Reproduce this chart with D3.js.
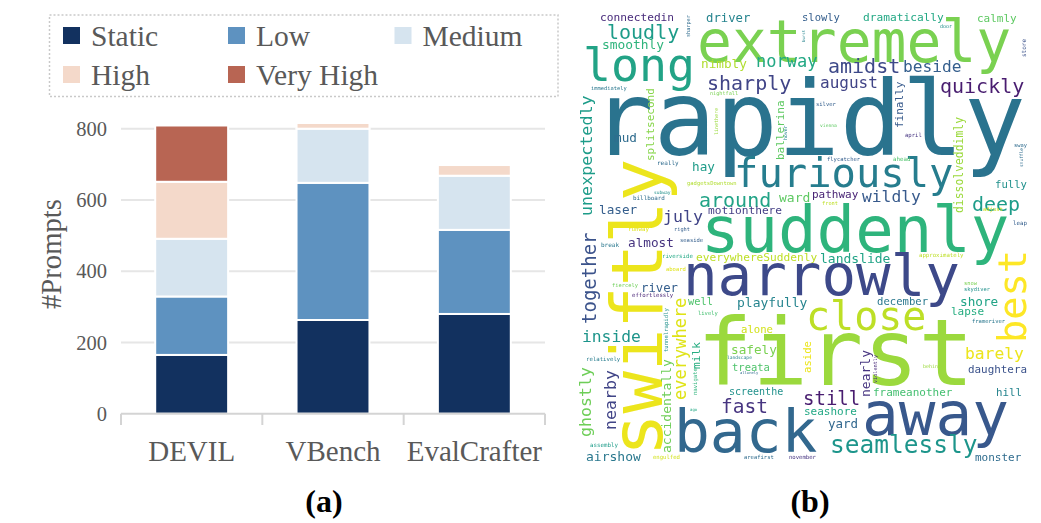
<!DOCTYPE html>
<html>
<head>
<meta charset="utf-8">
<script src="https://cdn.jsdelivr.net/npm/d3@7/dist/d3.min.js"></script>
<style>
  html, body { margin: 0; padding: 0; background: #fff; }
  svg { display: block; }
</style>
</head>
<body>
<div id="canvas"></div>
<script>
// (a) stacked bars
var datasets = ['DEVIL', 'VBench', 'EvalCrafter'];
var levels = ['Static', 'Low', 'Medium', 'High', 'Very High'];
var levelColors = ['#12315f', '#5e92c0', '#d6e4ef', '#f4d9ca', '#b86553'];
var staticCounts = [165, 263, 280];
var lowCounts = [164, 385, 236];
var mediumCounts = [162, 152, 152];
var highCounts = [160, 16, 30];
var veryHighCounts = [158, 0, 0];
var yTicks = [0, 200, 400, 600, 800];

// (b) word cloud, rows are word, column, row, weight, viridis tone
var cloudAcross = [
  ['rapidly', 11.7, 145, 103, .38], ['extremely', 117, 52, 58, .8], ['first', 117, 375, 92, .85],
  ['suddenly', 121, 242, 64, .65], ['narrowly', 103, 285, 57.5, .22], ['away', 282, 425, 61, .27],
  ['back', 94, 442, 59.5, .33], ['furiously', 154, 177, 40.5, .42], ['close', 226, 320, 40, .9],
  ['long', 3, 71, 46.5, .58], ['seamlessly', 250, 443, 24.5, .52], ['loudly', 27, 29, 20, .55],
  ['sharply', 127, 80, 20, .2], ['amidst', 248, 63, 20, .22], ['quickly', 360, 83, 20, .08],
  ['around', 119, 197, 20, .58], ['deep', 392, 201, 20, .55], ['still', 223, 395, 19, .08],
  ['fast', 141, 403, 19.5, .15], ['norway', 176, 57, 17, .6], ['july', 83, 212, 16.6, .2],
  ['beside', 323, 62, 16.2, .3], ['august', 240, 78, 16, .2], ['wildly', 282, 192, 16.3, .28],
  ['inside', 2, 332, 16.3, .52], ['barely', 385, 349, 16.3, .97], ['smoothly', 22, 39, 12.9, .65],
  ['driver', 126, 12, 12.3, .45], ['nimbly', 121, 58, 12.7, .88], ['mud', 34, 132, 12.7, .35],
  ['hay', 112, 161, 12.7, .55], ['laser', 19, 204, 12.7, .3], ['ward', 199, 192, 13, .75],
  ['almost', 48, 237, 12.7, .15], ['river', 61, 282, 12.3, .3], ['playfully', 157, 297, 13, .45],
  ['landslide', 240, 253, 13, .58], ['shore', 380, 296, 12.7, .58], ['safely', 151, 344, 12.7, .8],
  ['yard', 248, 418, 12.5, .33], ['airshow', 6, 451, 13, .4], ['connectedin', 20, 11, 11.2, .12],
  ['slowly', 222, 11, 10.5, .3], ['dramatically', 283, 11, 11.2, .6], ['calmly', 397, 12, 11, .75],
  ['motionthere', 128, 204, 11.2, .18], ['pathway', 232, 188, 11, .1], ['fully', 415, 178, 10.6, .5],
  ['everywhereSuddenly', 116, 251, 11.2, .9], ['well', 108, 295, 10.4, .72], ['alone', 161, 323, 10.6, .93],
  ['treata', 152, 361, 10.5, .72], ['screenthe', 149, 385, 10, .5], ['december', 297, 295, 10.6, .4],
  ['lapse', 371, 305, 11, .62], ['daughtera', 388, 363, 10.9, .25], ['frameanother', 293, 386, 11, .7],
  ['seashore', 224, 405, 11, .6], ['hill', 416, 386, 10.8, .45], ['monster', 395, 451, 11, .35],
  ['immediately', 11, 80, 5.4, .4], ['nightfall', 130, 85, 5.2, .8], ['really', 77, 155, 6, .35],
  ['gadgetsDowntown', 107, 175, 5.5, .88], ['subway', 74, 184, 4.6, .5], ['billboard', 53, 190, 5.9, .35],
  ['runway', 48, 221, 5.8, .95], ['right', 94, 221, 5.3, .3], ['door', 360, 18, 5, .5],
  ['silver', 236, 96, 5.5, .3], ['vienna', 240, 117, 4.7, .75], ['april', 325, 127, 5.6, .15],
  ['flycatcher', 247, 151, 5.5, .3], ['ahead', 313, 151, 5.8, .72], ['sway', 434, 137, 5.4, .35],
  ['front', 242, 195, 5.3, .9], ['adjust', 403, 201, 5.5, .92], ['leap', 433, 215, 5.8, .3],
  ['seaside', 100, 232, 5.5, .3], ['break', 21, 237, 6, .4], ['riverside', 82, 248, 5.7, .6],
  ['aboard', 86, 261, 5.5, .95], ['fiercely', 32, 277, 5.4, .78], ['effortlessly', 52, 287, 5.7, .1],
  ['lively', 118, 305, 5.5, .7], ['relatively', 6, 351, 5.7, .42], ['landscape', 147, 349, 4.6, .45],
  ['allonely', 160, 364, 3.8, .35], ['ago', 110, 401, 4, .6], ['assembly', 10, 437, 5.8, .55],
  ['engulfed', 73, 449, 5.6, .93], ['areafirst', 164, 449, 5.5, .35], ['november', 209, 449, 5.6, .15],
  ['approximately', 339, 247, 5.7, .9], ['snow', 384, 275, 5.4, .8], ['skydiver', 384, 281, 5.4, .5],
  ['frameriver', 392, 313, 5.5, .4], ['behindA', 343, 358, 5, .85]
];
var cloudUpright = [
  ['swiftly', 82, 446, 70.5, .97], ['best', 446, 333, 38.6, 1], ['together', 16, 314, 19, .25],
  ['unexpectedly', 12, 206, 16.7, .55], ['everywhere', 106, 390, 17, .95], ['ghostly', 11, 427, 16.6, .78],
  ['nearby', 36, 420, 16.6, .2], ['accidentally', 91, 443, 13, .78], ['nearly', 290, 387, 13, .15],
  ['splitsecond', 74, 151, 11, .82], ['ballerina', 204, 150, 11, .75], ['finally', 323, 118, 11, .28],
  ['dissolveddimly', 383, 203, 11.4, .85], ['milk', 120, 359, 11.2, .62], ['aside', 231, 363, 10.6, .97],
  ['violently', 297, 373, 5.2, .12], ['tunnelrapidly', 88, 342, 5.6, .5], ['navigate', 117, 385, 5.6, .65],
  ['linethere', 138, 125, 5, .85], ['hover', 207, 130, 4.8, .45], ['sharper', 110, 27, 5.2, .35],
  ['burst', 225, 32, 4, .45], ['store', 446, 47, 6, .25], ['snuffle', 443, 157, 4.5, .35]
];

var serif = '"Liberation Serif", "Times New Roman", serif';
var grey = '#595959';

var svg = d3.select('#canvas').append('svg')
  .attr('width', 1041)
  .attr('height', 523)
  .style('background', '#fff');

var x = d3.scaleBand().domain(datasets).range([121, 545]).paddingInner(0.484).paddingOuter(0.242);
var y = d3.scaleLinear().domain([0, 800]).range([413.7, 128.7]);

// gridlines
svg.append('g').selectAll('line').data(yTicks.slice(1)).enter().append('line')
  .attr('x1', 121)
  .attr('x2', 545)
  .attr('y1', function (d) { return y(d); })
  .attr('y2', function (d) { return y(d); })
  .attr('stroke', '#e6e6e6')
  .attr('stroke-width', 2);

// stacks
var table = datasets.map(function (name, i) {
  return {
    name: name,
    'Static': staticCounts[i],
    'Low': lowCounts[i],
    'Medium': mediumCounts[i],
    'High': highCounts[i],
    'Very High': veryHighCounts[i]
  };
});
var color = d3.scaleOrdinal().domain(levels).range(levelColors);
var layers = d3.stack().keys(levels)(table);

svg.append('g').selectAll('g').data(layers).enter().append('g')
  .attr('fill', function (d) { return color(d.key); })
  .selectAll('rect').data(function (d) { return d.filter(function (s) { return s[1] > s[0]; }); })
  .enter().append('rect')
  .attr('x', function (d) { return x(d.data.name); })
  .attr('y', function (d) { return y(d[1]); })
  .attr('width', x.bandwidth())
  .attr('height', function (d) { return y(d[0]) - y(d[1]); })
  .attr('stroke', '#fff')
  .attr('stroke-width', 2);

// axes
var yAxis = svg.append('g')
  .attr('transform', 'translate(107,0)')
  .call(d3.axisLeft(y).tickValues(yTicks).tickSize(0).tickPadding(0));
yAxis.select('.domain').remove();
yAxis.selectAll('text')
  .attr('font-family', serif)
  .attr('font-size', 20.5)
  .attr('fill', grey);

svg.append('line')
  .attr('x1', 121).attr('x2', 545)
  .attr('y1', y(0)).attr('y2', y(0))
  .attr('stroke', '#d4d4d4')
  .attr('stroke-width', 2);

var edges = [0, 1, 2, 3];
svg.append('g').selectAll('line').data(edges).enter().append('line')
  .attr('x1', function (d) { return 121 + d * x.step(); })
  .attr('x2', function (d) { return 121 + d * x.step(); })
  .attr('y1', y(0))
  .attr('y2', 425)
  .attr('stroke', '#d4d4d4')
  .attr('stroke-width', 2);

var xAxis = svg.append('g')
  .attr('transform', 'translate(0,' + y(0) + ')')
  .call(d3.axisBottom(x).tickSize(0).tickPadding(0));
xAxis.select('.domain').remove();
xAxis.selectAll('text')
  .attr('y', 47)
  .attr('dy', 0)
  .attr('font-family', serif)
  .attr('font-size', 29)
  .attr('fill', grey);

svg.append('text')
  .attr('transform', 'translate(61,254) rotate(-90)')
  .attr('text-anchor', 'middle')
  .attr('font-family', serif)
  .attr('font-size', 28.7)
  .attr('fill', grey)
  .text('#Prompts');

// legend
svg.append('rect')
  .attr('x', 49.5).attr('y', 15)
  .attr('width', 508.5).attr('height', 81.5)
  .attr('fill', 'none')
  .attr('stroke', '#c9c9c9')
  .attr('stroke-width', 1.5)
  .attr('stroke-dasharray', '2,2');

var legendX = [63, 228, 394.5];
var legendY = [27, 66];
var legend = svg.append('g').selectAll('g').data(levels).enter().append('g')
  .attr('transform', function (d, i) {
    return 'translate(' + legendX[i % 3] + ',' + legendY[Math.floor(i / 3)] + ')';
  });
legend.append('rect')
  .attr('width', 17)
  .attr('height', 17)
  .attr('fill', function (d) { return color(d); });
legend.append('text')
  .attr('x', 28)
  .attr('y', 18.5)
  .attr('font-family', serif)
  .attr('font-size', 29.5)
  .attr('fill', grey)
  .text(function (d) { return d; });

// panel captions
svg.append('g').selectAll('text').data([['(a)', 324], ['(b)', 810]]).enter().append('text')
  .attr('x', function (d) { return d[1]; })
  .attr('y', 512)
  .attr('text-anchor', 'middle')
  .attr('font-family', serif)
  .attr('font-weight', 'bold')
  .attr('font-size', 32)
  .attr('fill', '#000')
  .text(function (d) { return d[0]; });

// word cloud
var soft = svg.append('defs').append('filter').attr('id', 'soft');
soft.append('feGaussianBlur').attr('stdDeviation', 0.55);

var col = d3.scaleLinear().domain([0, 450]).range([580, 1030]);
var row = d3.scaleLinear().domain([0, 460]).range([10, 470]);
var weight = d3.scaleLinear().domain([0, 100]).range([0, 100]);

var cloud = svg.append('g')
  .attr('filter', 'url(#soft)')
  .attr('font-family', '"DejaVu Sans Mono", monospace');

var place = function (rows, turn) {
  cloud.append('g').selectAll('text').data(rows).enter().append('text')
    .attr('transform', function (d) {
      return 'translate(' + col(d[1]) + ',' + row(d[2]) + ')' + turn;
    })
    .attr('font-size', function (d) { return weight(d[3]); })
    .attr('fill', function (d) { return d3.interpolateViridis(d[4]); })
    .text(function (d) { return d[0]; });
};
place(cloudAcross, '');
place(cloudUpright, ' rotate(-90)');
</script>
</body>
</html>
